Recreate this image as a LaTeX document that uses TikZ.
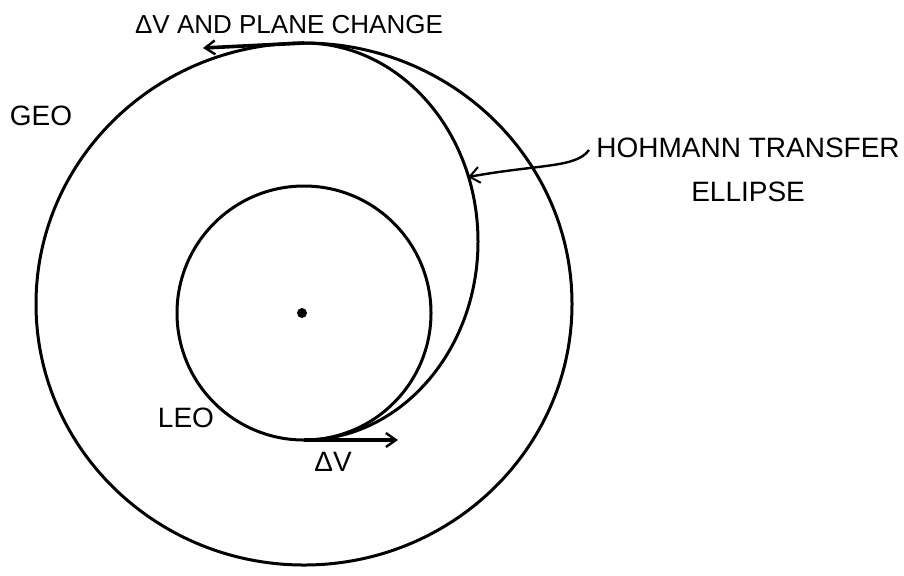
\documentclass[tikz,border=0pt]{standalone}
\usepackage{fontspec}
\setmainfont{Liberation Sans}
\usetikzlibrary{arrows.meta,positioning}

\begin{document}
\begin{tikzpicture}[
    x=0.5pt, y=-0.5pt,
    orbit/.style={line width=1.5pt},
    label/.style={inner sep=0pt, font=\fontsize{14}{22}\selectfont},
    burn/.style={-{Straight Barb[length=5pt, width=7pt, line width=1.2pt]}, line width=1.8pt},
    leader/.style={-{Straight Barb[length=5pt, width=8pt, line width=1pt]}, line width=1.2pt}
]
\useasboundingbox (0,0) rectangle (904,575);

% orbits
\draw[orbit] (304,304) ellipse[x radius=268, y radius=261];
\draw[orbit] (304,313) circle[radius=127];
\fill (302,313) circle[radius=5] coordinate (earth);
\draw[orbit] (304,440) coordinate (perigee)
    arc[start angle=90, end angle=-90, x radius=174, y radius=198.5] coordinate (apogee);

% burns
\coordinate (perigeeTip) at (398,440);
\coordinate (apogeeTip) at (203,48);
\draw[burn] (perigee) -- (perigeeTip);
\draw[burn] (apogee) -- (apogeeTip);

% labels
\node[label, font=\fontsize{13}{16}\selectfont] (planeLbl) at (289,25) {ΔV AND PLANE CHANGE};
\node[label] (geoLbl) at (41,116) {GEO};
\node[label] (leoLbl) at (186,418) {LEO};
\node[label] (dvLbl) at (333,462) {ΔV};
\node[label, align=center, anchor=north west] (transferLbl) at (596,138) {HOHMANN TRANSFER\\ELLIPSE};

% leader to the transfer ellipse
\coordinate (leaderStart) at (589,150);
\coordinate (transferPt) at (468,177);
\draw[leader] (leaderStart) .. controls (576,168) and (540,164) .. (transferPt);
\end{tikzpicture}
\end{document}
